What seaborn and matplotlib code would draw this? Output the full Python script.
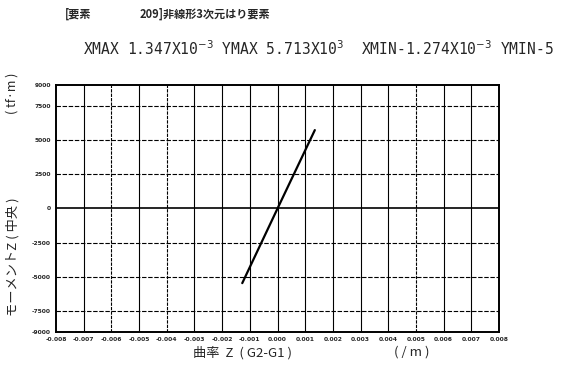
import pandas as pd
import matplotlib.pyplot as plt
import seaborn as sns
import numpy as np

# Veri
curvature = [-0.001274, 0.0, 0.001347]
moment = [-5440, 0, 5713]
x_ticks = [-0.008, -0.007, -0.006, -0.005, -0.004, -0.003, -0.002, -0.001,
           0.0, 0.001, 0.002, 0.003, 0.004, 0.005, 0.006, 0.007, 0.008]
y_ticks = [-9000, -7500, -5000, -2500, 0, 2500, 5000, 7500, 9000]

df = pd.DataFrame({'curv': curvature, 'moment': moment})

sns.set_style("white")
plt.rcParams['font.family'] = ['Noto Sans CJK JP', 'DejaVu Sans']
plt.rcParams['mathtext.fontset'] = 'dejavusans'

fig = plt.figure(figsize=(5.63, 3.67), dpi=100)
ax = fig.add_axes([0.0995, 0.0954, 0.7869, 0.6730])

# Izgara
for xv in x_ticks[1:-1]:
    ax.axvline(xv, color='black', lw=0.8, ls=(0, (3, 1)) if xv in (-0.006, -0.004, 0.005) else '-', zorder=1)
for yv in y_ticks[1:-1]:
    ax.axhline(yv, color='black', lw=0.8 if yv != 0 else 1.2, ls='-' if yv == 0 else (0, (4, 1.5)), zorder=1)

sns.lineplot(data=df, x='curv', y='moment', color='black', lw=1.6, ax=ax, zorder=3)

ax.set_xlim(-0.008, 0.008)
ax.set_ylim(-9000, 9000)
ax.set_xticks(x_ticks)
ax.set_xticklabels([f"{v:.3f}" for v in x_ticks], fontsize=4.3, fontweight='bold', family='DejaVu Sans')
ax.set_yticks(y_ticks)
ax.set_yticklabels([str(v) for v in y_ticks], fontsize=4.3, fontweight='bold', family='DejaVu Sans')
ax.tick_params(length=2, width=0.8, pad=1.5, direction='out')
for s in ax.spines.values():
    s.set_color('black')
    s.set_linewidth(1.4)
ax.set_xlabel('')
ax.set_ylabel('')

# Basliklar
fig.text(0.115, 0.962, '[要素', fontsize=8, fontweight='bold', va='center', ha='left')
fig.text(0.248, 0.962, '209]非線形3次元はり要素', fontsize=8, fontweight='bold', va='center', ha='left')
fig.text(0.148, 0.868,
         r'XMAX 1.347X10$^{-3}$ YMAX 5.713X10$^{3}$  XMIN-1.274X10$^{-3}$ YMIN-5',
         fontsize=10.5, va='center', ha='left', family='DejaVu Sans Mono')

# Eksen etiketleri
fig.text(0.022, 0.30, 'モーメントZ ( 中央 )', rotation=90, fontsize=9.5, va='center', ha='center')
fig.text(0.022, 0.745, '( tf·m )', rotation=90, fontsize=9, va='center', ha='center')
fig.text(0.43, 0.04, '曲率  Z  ( G2-G1 )', fontsize=9.5, va='center', ha='center')
fig.text(0.732, 0.04, '( / m )', fontsize=9.5, va='center', ha='center')

plt.savefig('out.png', dpi=100)
